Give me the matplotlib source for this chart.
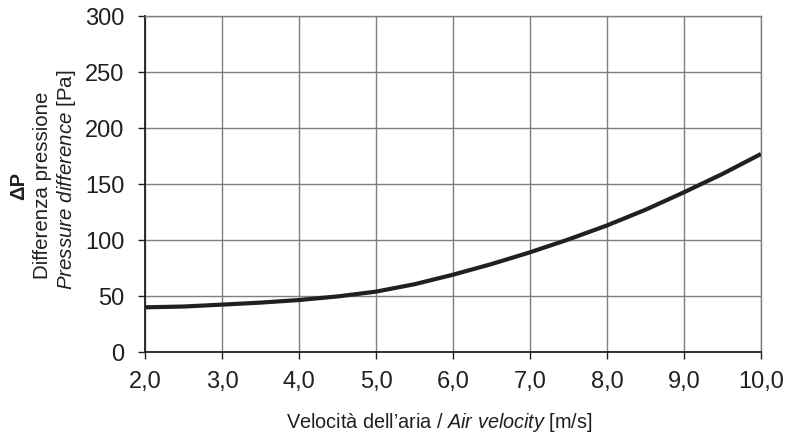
import matplotlib
matplotlib.use("Agg")
import matplotlib.pyplot as plt
from matplotlib.ticker import FuncFormatter

plt.rcParams["font.family"] = ["Liberation Sans", "DejaVu Sans"]
plt.rcParams["mathtext.fontset"] = "custom"
plt.rcParams["mathtext.rm"] = "Liberation Sans"
plt.rcParams["mathtext.it"] = "Liberation Sans:italic"

# air velocity [m/s] and pressure drop [Pa]
velocity = [2.0, 2.5, 3.0, 3.5, 4.0, 4.5, 5.0, 5.5, 6.0, 6.5, 7.0, 7.5, 8.0, 8.5, 9.0, 9.5, 10.0]
pressure = [39.9, 40.6, 42.3, 44.1, 46.4, 49.6, 53.9, 60.5, 69.0, 78.5, 89.0, 100.5, 113.0, 127.0, 142.6, 159.0, 176.8]

x_ticks = [2, 3, 4, 5, 6, 7, 8, 9, 10]
y_ticks = [0, 50, 100, 150, 200, 250, 300]

ink = "#231f20"
grid_col = "#7f7f7f"

fig = plt.figure(figsize=(7.95, 4.39), dpi=100)
ax = fig.add_axes([0.1824, 0.1959, 0.7748, 0.7654])

ax.plot(velocity, pressure, color=ink, linewidth=3.0, solid_capstyle="butt", zorder=3)

ax.set_xlim(2, 10)
ax.set_ylim(0, 300)
ax.set_xticks(x_ticks)
ax.set_yticks(y_ticks)
ax.xaxis.set_major_formatter(FuncFormatter(lambda v, _: f"{v:.1f}".replace(".", ",")))
ax.grid(True, color=grid_col, linewidth=1.0, zorder=1)

for side in ("top", "right"):
    ax.spines[side].set_color(grid_col)
    ax.spines[side].set_linewidth(1.0)
for side in ("left", "bottom"):
    ax.spines[side].set_color(ink)
    ax.spines[side].set_linewidth(1.3)

ax.tick_params(axis="both", direction="out", length=5, width=1.0, color=ink,
               labelsize=17, labelcolor=ink)
ax.tick_params(axis="y", pad=10)
ax.tick_params(axis="x", pad=8)

fig.text(0.5528, 1 - 423 / 439, "Velocità dell\u2019aria / $Air\\ velocity$ [m/s]",
         ha="center", va="center", fontsize=14.3, color=ink)

fig.text(19 / 795, 1 - 186 / 439, "\u0394P", rotation=90, ha="center", va="center",
         fontsize=14.5, fontweight="bold", color=ink)
fig.text(43 / 795, 1 - 185 / 439, "Differenza pressione", rotation=90, ha="center", va="center",
         fontsize=14.8, color=ink)
fig.text(67 / 795, 1 - 180 / 439, "$Pressure\\ difference$ [Pa]", rotation=90, ha="center", va="center",
         fontsize=14.8, color=ink)

fig.savefig("out.png", dpi=100)
